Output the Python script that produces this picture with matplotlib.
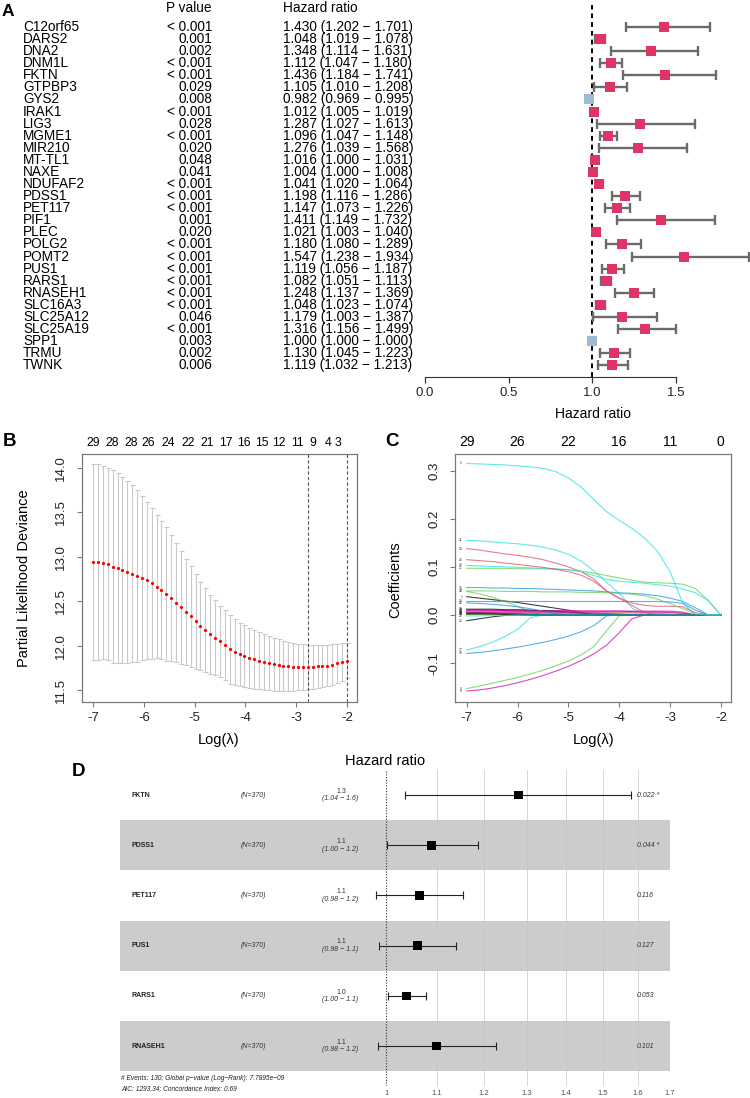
import numpy as np
import matplotlib
matplotlib.use('Agg')
import matplotlib.pyplot as plt
from matplotlib.transforms import blended_transform_factory as blend
from matplotlib.ticker import NullLocator

plt.rcParams['font.family'] = ['Liberation Sans', 'DejaVu Sans']
plt.rcParams['axes.unicode_minus'] = False

W, H = 750, 1098

# ---------------- Panel A data (univariate Cox) ----------------
genes_a = ['C12orf65', 'DARS2', 'DNA2', 'DNM1L', 'FKTN', 'GTPBP3', 'GYS2', 'IRAK1', 'LIG3',
           'MGME1', 'MIR210', 'MT-TL1', 'NAXE', 'NDUFAF2', 'PDSS1', 'PET117', 'PIF1', 'PLEC',
           'POLG2', 'POMT2', 'PUS1', 'RARS1', 'RNASEH1', 'SLC16A3', 'SLC25A12', 'SLC25A19',
           'SPP1', 'TRMU', 'TWNK']
pvals_a = ['< 0.001', '0.001', '0.002', '< 0.001', '< 0.001', '0.029', '0.008', '< 0.001', '0.028',
           '< 0.001', '0.020', '0.048', '0.041', '< 0.001', '< 0.001', '< 0.001', '0.001', '0.020',
           '< 0.001', '< 0.001', '< 0.001', '< 0.001', '< 0.001', '< 0.001', '0.046', '< 0.001',
           '0.003', '0.002', '0.006']
hr_a = [1.430, 1.048, 1.348, 1.112, 1.436, 1.105, 0.982, 1.012, 1.287, 1.096, 1.276, 1.016, 1.004,
        1.041, 1.198, 1.147, 1.411, 1.021, 1.180, 1.547, 1.119, 1.082, 1.248, 1.048, 1.179, 1.316,
        1.000, 1.130, 1.119]
lo_a = [1.202, 1.019, 1.114, 1.047, 1.184, 1.010, 0.969, 1.005, 1.027, 1.047, 1.039, 1.000, 1.000,
        1.020, 1.116, 1.073, 1.149, 1.003, 1.080, 1.238, 1.056, 1.051, 1.137, 1.023, 1.003, 1.156,
        1.000, 1.045, 1.032]
hi_a = [1.701, 1.078, 1.631, 1.180, 1.741, 1.208, 0.995, 1.019, 1.613, 1.148, 1.568, 1.031, 1.008,
        1.064, 1.286, 1.226, 1.732, 1.040, 1.289, 1.934, 1.187, 1.113, 1.369, 1.074, 1.387, 1.499,
        1.000, 1.223, 1.213]
ticks_a = [0.0, 0.5, 1.0, 1.5]

# ---------------- Panel B data (cv.glmnet) ----------------
log_lambda_cv = [-7.000, -6.904, -6.808, -6.712, -6.615, -6.519, -6.423, -6.327, -6.231, -6.135,
                 -6.038, -5.942, -5.846, -5.750, -5.654, -5.558, -5.462, -5.365, -5.269, -5.173,
                 -5.077, -4.981, -4.885, -4.788, -4.692, -4.596, -4.500, -4.404, -4.308, -4.212,
                 -4.115, -4.019, -3.923, -3.827, -3.731, -3.635, -3.538, -3.442, -3.346, -3.250,
                 -3.154, -3.058, -2.962, -2.865, -2.769, -2.673, -2.577, -2.481, -2.385, -2.288,
                 -2.192, -2.096, -2.000]
cvm = [12.94, 12.94, 12.935, 12.92, 12.89, 12.87, 12.85, 12.83, 12.81, 12.785,
       12.76, 12.735, 12.70, 12.665, 12.625, 12.58, 12.535, 12.48, 12.43, 12.38,
       12.33, 12.275, 12.22, 12.175, 12.13, 12.09, 12.05, 12.005, 11.96, 11.93,
       11.90, 11.88, 11.86, 11.845, 11.83, 11.815, 11.80, 11.79, 11.78, 11.77,
       11.765, 11.762, 11.76, 11.759, 11.758, 11.762, 11.765, 11.77, 11.775, 11.785,
       11.80, 11.815, 11.83]
cvup = [14.045, 14.04, 14.025, 14.005, 13.975, 13.94, 13.90, 13.855, 13.805, 13.75,
        13.68, 13.62, 13.55, 13.47, 13.40, 13.33, 13.24, 13.15, 13.07, 12.98,
        12.90, 12.81, 12.72, 12.65, 12.575, 12.51, 12.45, 12.40, 12.35, 12.30,
        12.26, 12.23, 12.20, 12.175, 12.15, 12.13, 12.105, 12.09, 12.07, 12.055,
        12.04, 12.03, 12.022, 12.015, 12.01, 12.008, 12.008, 12.008, 12.01, 12.015,
        12.02, 12.025, 12.03]
lambda_min_log = -2.769
lambda_1se_log = -2.000
top_pos_b = [-7.0, -6.63, -6.25, -5.92, -5.52, -5.13, -4.76, -4.39, -4.03, -3.68, -3.34, -2.97,
             -2.67, -2.37, -2.18]
top_lab_b = ['29', '28', '28', '26', '24', '22', '21', '17', '16', '15', '12', '11', '9', '4', '3']

# ---------------- Panel C data (coefficient paths) ----------------
path_grid = [-7.0, -6.75, -6.5, -6.25, -6.0, -5.75, -5.5, -5.25, -5.0, -4.75, -4.5,
             -4.25, -4.0, -3.75, -3.5, -3.25, -3.0, -2.75, -2.5, -2.25, -2.0]
coef_5 = [0.315, 0.314, 0.313, 0.312, 0.310, 0.308, 0.305, 0.298, 0.285, 0.266, 0.240,
          0.215, 0.197, 0.180, 0.160, 0.133, 0.090, 0.025, 0.0, 0.0, 0.0]
coef_11 = [0.155, 0.154, 0.152, 0.150, 0.148, 0.145, 0.141, 0.135, 0.126, 0.112, 0.092,
           0.068, 0.045, 0.015, 0.0, 0.0, 0.0, 0.0, 0.0, 0.0, 0.0]
coef_20 = [0.138, 0.135, 0.131, 0.127, 0.124, 0.120, 0.115, 0.108, 0.100, 0.090, 0.075,
           0.050, 0.035, 0.020, 0.005, 0.0, 0.0, 0.0, 0.0, 0.0, 0.0]
coef_26 = [0.115, 0.113, 0.111, 0.108, 0.105, 0.102, 0.099, 0.095, 0.090, 0.083, 0.070,
           0.050, 0.035, 0.025, 0.020, 0.018, 0.018, 0.017, 0.005, 0.0, 0.0]
coef_23 = [0.103, 0.102, 0.101, 0.100, 0.099, 0.098, 0.097, 0.096, 0.094, 0.090, 0.082,
           0.074, 0.070, 0.068, 0.066, 0.063, 0.060, 0.054, 0.046, 0.030, 0.0]
coef_21 = [0.097, 0.097, 0.097, 0.097, 0.096, 0.096, 0.096, 0.095, 0.094, 0.091, 0.087,
           0.082, 0.077, 0.072, 0.068, 0.067, 0.066, 0.064, 0.055, 0.030, 0.0]
coef_16 = [0.057, 0.057, 0.056, 0.056, 0.055, 0.055, 0.054, 0.053, 0.052, 0.051, 0.050,
           0.048, 0.046, 0.045, 0.043, 0.040, 0.035, 0.028, 0.015, 0.0, 0.0]
coef_27 = [0.050, 0.050, 0.050, 0.049, 0.049, 0.049, 0.048, 0.048, 0.048, 0.047, 0.047,
           0.046, 0.045, 0.043, 0.040, 0.033, 0.024, 0.013, 0.002, 0.0, 0.0]
coef_9 = [0.049, 0.044, 0.037, 0.028, 0.018, 0.006, 0.0, 0.0, 0.0, 0.0, 0.0,
          0.0, 0.0, 0.0, 0.0, 0.0, 0.0, 0.0, 0.0, 0.0, 0.0]
coef_1 = [0.038, 0.035, 0.032, 0.029, 0.026, 0.022, 0.018, 0.014, 0.010, 0.005, 0.0,
          0.0, 0.0, 0.0, 0.0, 0.0, 0.0, 0.0, 0.0, 0.0, 0.0]
coef_28 = [0.028, 0.028, 0.028, 0.028, 0.028, 0.028, 0.028, 0.028, 0.028, 0.028, 0.028,
           0.028, 0.028, 0.028, 0.028, 0.028, 0.027, 0.024, 0.010, 0.0, 0.0]
coef_22 = [0.025, 0.024, 0.022, 0.020, 0.017, 0.013, 0.008, 0.003, 0.0, 0.0, 0.0,
           0.0, 0.0, 0.0, 0.0, 0.0, 0.0, 0.0, 0.0, 0.0, 0.0]
coef_13 = [0.012, 0.012, 0.012, 0.011, 0.011, 0.010, 0.009, 0.008, 0.006, 0.004, 0.001,
           0.0, 0.0, 0.0, 0.0, 0.0, 0.0, 0.0, 0.0, 0.0, 0.0]
coef_24 = [0.008, 0.008, 0.008, 0.008, 0.008, 0.008, 0.008, 0.008, 0.008, 0.008, 0.008,
           0.008, 0.008, 0.008, 0.008, 0.008, 0.008, 0.006, 0.0, 0.0, 0.0]
coef_2 = [0.006, 0.006, 0.006, 0.006, 0.006, 0.006, 0.006, 0.006, 0.006, 0.006, 0.006,
          0.006, 0.006, 0.006, 0.006, 0.006, 0.006, 0.004, 0.0, 0.0, 0.0]
coef_7 = [0.005, 0.005, 0.004, 0.003, 0.002, 0.001, 0.0, 0.0, 0.0, 0.0, 0.0,
          0.0, 0.0, 0.0, 0.0, 0.0, 0.0, 0.0, 0.0, 0.0, 0.0]
coef_18 = [0.004, 0.004, 0.004, 0.004, 0.004, 0.004, 0.004, 0.004, 0.004, 0.004, 0.004,
           0.003, 0.002, 0.0, 0.0, 0.0, 0.0, 0.0, 0.0, 0.0, 0.0]
coef_12 = [0.010, 0.010, 0.010, 0.009, 0.009, 0.009, 0.009, 0.009, 0.009, 0.008, 0.008,
           0.008, 0.008, 0.007, 0.006, 0.006, 0.005, 0.003, 0.0, 0.0, 0.0]
coef_8 = [0.010, 0.010, 0.009, 0.009, 0.008, 0.008, 0.007, 0.006, 0.005, 0.004, 0.003,
          0.002, 0.0, 0.0, 0.0, 0.0, 0.0, 0.0, 0.0, 0.0, 0.0]
coef_19 = [0.002, 0.002, 0.002, 0.001, 0.001, 0.0, 0.0, 0.0, 0.0, 0.0, 0.0,
           0.0, 0.0, 0.0, 0.0, 0.0, 0.0, 0.0, 0.0, 0.0, 0.0]
coef_4 = [0.003, 0.003, 0.003, 0.002, 0.002, 0.001, 0.001, 0.0, 0.0, 0.0, 0.0,
          0.0, 0.0, 0.0, 0.0, 0.0, 0.0, 0.0, 0.0, 0.0, 0.0]
coef_15 = [0.001, 0.001, 0.001, 0.001, 0.0, 0.0, 0.0, 0.0, 0.0, 0.0, 0.0,
           0.0, 0.0, 0.0, 0.0, 0.0, 0.0, 0.0, 0.0, 0.0, 0.0]
coef_29 = [-0.002, -0.002, -0.001, -0.001, 0.0, 0.0, 0.0, 0.0, 0.0, 0.0, 0.0,
           0.0, 0.0, 0.0, 0.0, 0.0, 0.0, 0.0, 0.0, 0.0, 0.0]
coef_14 = [0.004, 0.004, 0.004, 0.004, 0.004, 0.004, 0.004, 0.004, 0.004, 0.004, 0.004,
           0.004, 0.004, 0.004, 0.004, 0.003, 0.002, 0.0, 0.0, 0.0, 0.0]
coef_25 = [-0.012, -0.008, -0.004, -0.001, 0.0, 0.0, 0.0, 0.0, 0.0, 0.0, 0.0,
           0.0, 0.0, 0.0, 0.0, 0.0, 0.0, 0.0, 0.0, 0.0, 0.0]
coef_17 = [-0.073, -0.066, -0.057, -0.045, -0.030, -0.006, 0.0, 0.0, 0.0, 0.0, 0.0,
           0.0, 0.0, 0.0, 0.0, 0.0, 0.0, 0.0, 0.0, 0.0, 0.0]
coef_10 = [-0.080, -0.078, -0.075, -0.071, -0.067, -0.062, -0.057, -0.051, -0.044, -0.035, -0.022,
           -0.002, 0.0, 0.0, 0.0, 0.0, 0.0, 0.0, 0.0, 0.0, 0.0]
coef_3 = [-0.153, -0.148, -0.142, -0.136, -0.130, -0.123, -0.115, -0.106, -0.096, -0.083, -0.066,
          -0.033, -0.002, 0.0, 0.0, 0.0, 0.0, 0.0, 0.0, 0.0, 0.0]
coef_6 = [-0.158, -0.156, -0.152, -0.147, -0.141, -0.134, -0.126, -0.117, -0.107, -0.095, -0.081,
          -0.063, -0.037, -0.008, 0.0, 0.0, 0.0, 0.0, 0.0, 0.0, 0.0]
top_pos_c = [-7, -6, -5, -4, -3, -2]
top_lab_c = ['29', '26', '22', '16', '11', '0']

# ---------------- Panel D data (multivariate Cox) ----------------
genes_d = ['FKTN', 'PDSS1', 'PET117', 'PUS1', 'RARS1', 'RNASEH1']
n_d = ['(N=370)'] * 6
hr_d = [1.28, 1.089, 1.064, 1.060, 1.039, 1.099]
lo_d = [1.036, 1.001, 0.982, 0.987, 1.003, 0.985]
hi_d = [1.58, 1.187, 1.154, 1.139, 1.078, 1.227]
hr_lab_d = ['1.3', '1.1', '1.1', '1.1', '1.0', '1.1']
ci_lab_d = ['(1.04 \u2212 1.6)', '(1.00 \u2212 1.2)', '(0.98 \u2212 1.2)',
            '(0.98 \u2212 1.1)', '(1.00 \u2212 1.1)', '(0.98 \u2212 1.2)']
p_lab_d = ['0.022 *', '0.044 *', '0.116', '0.127', '0.053', '0.101']
ticks_d = [1, 1.1, 1.2, 1.3, 1.4, 1.5, 1.6, 1.7]
footnote_d = ['# Events: 130; Global p\u2212value (Log\u2212Rank): 7.7895e\u221209',
              'AIC: 1293.34; Concordance Index: 0.69']

# =================================================================
fig = plt.figure(figsize=(W / 100, H / 100), dpi=100)


def px_axes(l, t, r, b):
    return fig.add_axes([l / W, 1 - b / H, (r - l) / W, (b - t) / H])


def fx(px):
    return px / W


def fy(py):
    return 1 - py / H


# ---------------- Panel A ----------------
axA = px_axes(425, 5, 750, 377)
n_a = len(genes_a)
rows_a = np.arange(n_a)
axA.set_xlim(0, 325 / 167.3)
axA.set_ylim(28.97, -1.82)
hr_arr = np.array(hr_a)
xerr_a = [hr_arr - np.array(lo_a), np.array(hi_a) - hr_arr]
axA.errorbar(hr_a, rows_a, xerr=xerr_a, fmt='none', ecolor='#6b6b6b', elinewidth=1.7,
             capsize=3.6, capthick=1.7, zorder=2, clip_on=False)
cols_a = ['#9FBAD3' if h <= 1 else '#DF3466' for h in hr_a]
axA.scatter(hr_a, rows_a, marker='s', s=52, c=cols_a, edgecolors='none', zorder=3, clip_on=False)
axA.axvline(1, color='black', lw=1.4, ls=(0, (2.5, 2)), zorder=1)
for s in ['top', 'right', 'left']:
    axA.spines[s].set_visible(False)
axA.spines['bottom'].set_bounds(0, 1.5)
axA.spines['bottom'].set_color('#333333')
axA.set_yticks([])
axA.set_xticks(ticks_a)
axA.set_xticklabels(['%.1f' % t for t in ticks_a])
axA.tick_params(axis='x', length=4.5, width=0.9, colors='#333333', labelsize=9.5, pad=2.5,
                labelcolor='#222222')
axA.patch.set_alpha(0)

trA = blend(fig.transFigure, axA.transData)
fsA = 9.8
for i in range(n_a):
    axA.text(fx(23), i, genes_a[i], transform=trA, ha='left', va='center', fontsize=fsA)
    axA.text(fx(212), i, pvals_a[i], transform=trA, ha='right', va='center', fontsize=fsA)
    axA.text(fx(283), i, '%.3f (%.3f \u2212 %.3f)' % (hr_a[i], lo_a[i], hi_a[i]),
             transform=trA, ha='left', va='center', fontsize=fsA)
fig.text(fx(212), fy(8), 'P value', ha='right', va='center', fontsize=fsA)
fig.text(fx(283), fy(8), 'Hazard ratio', ha='left', va='center', fontsize=fsA)
fig.text(fx(593), fy(414), 'Hazard ratio', ha='center', va='center', fontsize=10)
fig.text(fx(2), fy(12), 'A', ha='left', va='center', fontsize=12.5, fontweight='bold')


# ---------------- helpers for R-style panels ----------------
def r_style(ax):
    for s in ax.spines.values():
        s.set_color('#7a7a7a')
        s.set_linewidth(0.9)
    ax.tick_params(axis='both', direction='out', length=3.8, width=0.8, color='#7a7a7a',
                   labelsize=9.5, labelcolor='#222222')
    ax.tick_params(axis='x', pad=3.5)
    ax.tick_params(axis='y', labelrotation=90, pad=7)
    for lab in ax.get_yticklabels():
        lab.set_va('center')


# ---------------- Panel B ----------------
axB = px_axes(82, 454, 357, 702)
cvsd = np.subtract(cvup, cvm)
axB.errorbar(log_lambda_cv, cvm, yerr=cvsd, fmt='none', ecolor='#c9c9c9', elinewidth=0.8,
             capsize=1.8, capthick=0.8, zorder=1)
axB.plot(log_lambda_cv, cvm, 'o', color='#ff0000', ms=2.3, mec='none', zorder=3)
for v in (lambda_min_log, lambda_1se_log):
    axB.axvline(v, color='#555555', lw=0.8, ls=(0, (3, 2)), zorder=2)
axB.set_xlim(-7.22, -1.80)
axB.set_ylim(11.365, 14.157)
axB.set_xticks([-7, -6, -5, -4, -3, -2])
axB.set_yticks([11.5, 12.0, 12.5, 13.0, 13.5, 14.0])
axB.set_yticklabels(['11.5', '12.0', '12.5', '13.0', '13.5', '14.0'])
r_style(axB)
trB = blend(axB.transData, axB.transAxes)
for p, l in zip(top_pos_b, top_lab_b):
    axB.text(p, 1 + 11 / 248, l, transform=trB, ha='center', va='center', fontsize=8.8)
fig.text(fx(219), fy(740), 'Log(\u03bb)', ha='center', va='center', fontsize=10.5)
fig.text(fx(24), fy(578), 'Partial Likelihood Deviance', ha='center', va='center',
         rotation=90, fontsize=10.5)
fig.text(fx(3), fy(441), 'B', ha='left', va='center', fontsize=13.5, fontweight='bold')

# ---------------- Panel C ----------------
axC = px_axes(455, 454, 731, 702)
pal = ['#000000', '#DF536B', '#61D04F', '#2297E6', '#28E2E5', '#CD0BBC']
paths = [(1, coef_1), (2, coef_2), (3, coef_3), (4, coef_4), (5, coef_5), (6, coef_6),
         (7, coef_7), (8, coef_8), (9, coef_9), (10, coef_10), (11, coef_11), (12, coef_12),
         (13, coef_13), (14, coef_14), (15, coef_15), (16, coef_16), (17, coef_17),
         (18, coef_18), (19, coef_19), (20, coef_20), (21, coef_21), (22, coef_22),
         (23, coef_23), (24, coef_24), (25, coef_25), (26, coef_26), (27, coef_27),
         (28, coef_28), (29, coef_29)]
for k, vals in paths:
    c = pal[(k - 1) % 6]
    axC.plot(path_grid, vals, color=c, lw=0.8, alpha=0.75, zorder=2)
    axC.text(-7.09, vals[0], str(k), fontsize=2.4, ha='right', va='center', color='#333333')
axC.set_xlim(-7.23, -1.80)
axC.set_ylim(-0.181, 0.3347)
axC.set_xticks([-7, -6, -5, -4, -3, -2])
axC.set_yticks([-0.1, 0.0, 0.1, 0.2, 0.3])
axC.set_yticklabels(['-0.1', '0.0', '0.1', '0.2', '0.3'])
r_style(axC)
trC = blend(axC.transData, axC.transAxes)
for p, l in zip(top_pos_c, top_lab_c):
    axC.text(p, 1 + 12.5 / 248, l, transform=trC, ha='center', va='center', fontsize=10)
fig.text(fx(594), fy(740), 'Log(\u03bb)', ha='center', va='center', fontsize=10.5)
fig.text(fx(395), fy(580), 'Coefficients', ha='center', va='center', rotation=90, fontsize=10.5)
fig.text(fx(385), fy(441), 'C', ha='left', va='center', fontsize=13.5, fontweight='bold')

# ---------------- Panel D ----------------
axD = px_axes(120, 770, 670, 1086)
axD.set_xscale('log')
axD.set_xlim(0.608, 1.7)
axD.set_ylim(6.795, 0.5)
rows_d = np.arange(1, len(genes_d) + 1)
for r in rows_d:
    if r % 2 == 0:
        axD.axhspan(r - 0.5, r + 0.5, color='#cccccc', lw=0, zorder=0)
for t in ticks_d[1:]:
    axD.axvline(t, color='#c6c6c6', lw=0.5, zorder=1)
axD.axvline(1, color='#333333', lw=0.8, ls=(0, (1, 1.5)), zorder=2)
hr_d_arr = np.array(hr_d)
axD.errorbar(hr_d, rows_d, xerr=[hr_d_arr - np.array(lo_d), np.array(hi_d) - hr_d_arr],
             fmt='none', ecolor='#222222', elinewidth=0.8, capsize=3.2, capthick=0.8, zorder=3)
axD.scatter(hr_d, rows_d, marker='s', s=40, c='black', edgecolors='none', zorder=4)
for s in axD.spines.values():
    s.set_visible(False)
axD.set_yticks([])
axD.xaxis.set_minor_locator(NullLocator())
axD.set_xticks(ticks_d)
axD.set_xticklabels(['1', '1.1', '1.2', '1.3', '1.4', '1.5', '1.6', '1.7'])
axD.tick_params(axis='x', length=0, labelsize=5.5, labelcolor='#4d4d4d', pad=3)

trD = blend(fig.transFigure, axD.transData)
fsD = 5
for i, r in enumerate(rows_d):
    axD.text(fx(131), r, genes_d[i], transform=trD, ha='left', va='center', fontsize=fsD,
             fontweight='bold', color='#222222')
    axD.text(fx(253), r, n_d[i], transform=trD, ha='center', va='center', fontsize=fsD,
             style='italic', color='#333333')
    axD.text(fx(341), r - 0.075, hr_lab_d[i], transform=trD, ha='center', va='center',
             fontsize=fsD, color='#333333')
    axD.text(fx(340), r + 0.075, ci_lab_d[i], transform=trD, ha='center', va='center',
             fontsize=fsD, style='italic', color='#333333')
    axD.text(fx(637), r, p_lab_d[i], transform=trD, ha='left', va='center', fontsize=fsD,
             style='italic', color='#333333')
fig.text(fx(121), fy(1078), footnote_d[0], ha='left', va='center', fontsize=4.8,
         style='italic', color='#222222')
fig.text(fx(121), fy(1089), footnote_d[1], ha='left', va='center', fontsize=4.8,
         style='italic', color='#222222')
fig.text(fx(385), fy(761), 'Hazard ratio', ha='center', va='center', fontsize=10.5)
fig.text(fx(72), fy(771), 'D', ha='left', va='center', fontsize=13.5, fontweight='bold')

fig.savefig('out.png', dpi=100)
